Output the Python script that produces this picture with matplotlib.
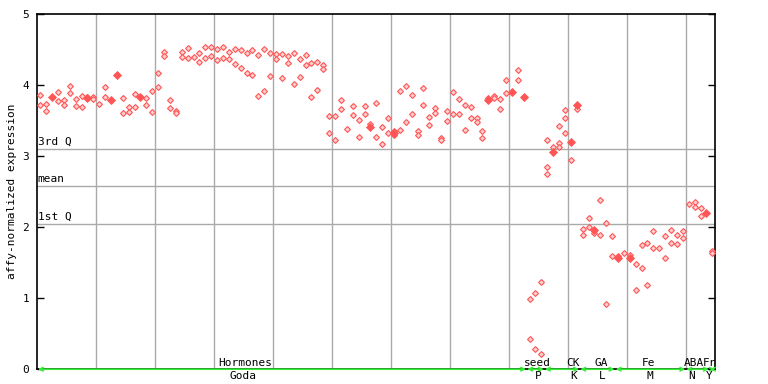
import numpy as np
import matplotlib
matplotlib.use("Agg")
import matplotlib.pyplot as plt

nan = np.nan

# ---- data: one value per column (replicates), NaN where absent ----
goda_r1 = [3.85, 3.73, nan, 3.89, 3.78, 3.98, 3.80, 3.84, 3.83, 3.82,
           3.73, 3.96, nan, nan, 3.81, 3.68, 3.87, nan, 3.81, 3.91,
           4.16, 4.46, 3.78, 3.63, 4.46, 4.51, 4.39, 4.44, 4.53, 4.53,
           4.50, 4.53, 4.46, 4.50, 4.49, 4.44, 4.48, 4.41, 4.50, 4.44,
           4.43, 4.43, 4.40, 4.44, 4.36, 4.42, 4.30, 4.32, 4.27, 3.56,
           3.56, 3.78, 3.37, 3.70, 3.50, 3.70, 3.44, 3.74, 3.40, 3.53,
           3.35, 3.91, 3.98, 3.85, 3.35, 3.95, 3.55, 3.67, 3.25, 3.63,
           3.89, 3.80, 3.71, 3.68, 3.53, 3.35, 3.81, 3.84, 3.80, 4.06,
           nan, 4.20, nan]
goda_r2 = [3.71, 3.63, nan, 3.77, 3.71, 3.88, 3.70, 3.68, nan, 3.80,
           nan, 3.82, nan, nan, 3.60, 3.61, 3.68, nan, 3.71, 3.61,
           3.96, 4.40, 3.67, 3.60, 4.39, 4.37, nan, 4.32, 4.37, 4.40,
           4.34, 4.37, 4.36, 4.29, 4.23, 4.16, 4.13, 3.84, 3.91, 4.12,
           4.36, 4.09, 4.30, 4.01, 4.11, 4.27, 3.82, 3.92, 4.22, 3.32,
           3.22, 3.66, nan, 3.57, 3.26, 3.59, nan, 3.26, 3.16, 3.32,
           3.29, 3.36, 3.47, 3.59, 3.29, 3.71, 3.43, 3.60, 3.22, 3.49,
           3.59, 3.59, 3.36, 3.53, 3.47, 3.25, nan, 3.81, 3.66, 3.88,
           nan, 4.06, nan]
goda_mean = [nan, nan, 3.83, nan, nan, nan, nan, nan, 3.81, nan,
             nan, nan, 3.78, 4.14, nan, nan, nan, 3.82, nan, nan,
             nan, nan, nan, nan, nan, nan, nan, nan, nan, nan,
             nan, nan, nan, nan, nan, nan, nan, nan, nan, nan,
             nan, nan, nan, nan, nan, nan, nan, nan, nan, nan,
             nan, nan, nan, nan, nan, nan, 3.40, nan, nan, nan,
             3.32, nan, nan, nan, nan, nan, nan, nan, nan, nan,
             nan, nan, nan, nan, nan, nan, 3.78, nan, nan, nan,
             3.89, nan, 3.82]

seed_r1 = [0.98, 1.07, 1.22]
seed_r2 = [0.42, 0.28, 0.22]
seed_mean = [nan, nan, nan]

ck_r1 = [3.22, 3.12, 3.42, 3.64, 2.94, 3.66]
ck_r2 = [2.84, nan, 3.18, 3.53, nan, nan]
ck_r3 = [2.74, nan, 3.12, 3.32, nan, nan]
ck_mean = [nan, 3.05, nan, nan, 3.20, 3.72]

ga_r1 = [1.97, 2.12, 1.91, 2.38, 2.05, 1.87]
ga_r2 = [1.88, 2.00, nan, 1.88, 0.91, 1.59]
ga_mean = [nan, nan, 1.95, nan, nan, nan]

fe_r1 = [1.59, 1.64, 1.60, 1.48, 1.74, 1.77, 1.94, 1.70, 1.87, 1.95, 1.88, 1.94]
fe_r2 = [nan, nan, nan, 1.12, 1.42, 1.19, 1.71, nan, 1.57, 1.78, 1.76, 1.85]
fe_mean = [1.56, nan, 1.57, nan, nan, nan, nan, nan, nan, nan, nan, nan]

aba_r1 = [2.32, 2.35, 2.26, nan]
aba_r2 = [nan, 2.28, 2.15, nan]
aba_mean = [nan, nan, nan, 2.20]

fr_r1 = [1.66]
fr_r2 = [1.63]
fr_mean = [nan]

groups = ["Hormones", "seed", "CK", "GA", "Fe", "ABA", "Fr"]
experiments = ["Goda", "P", "K", "L", "M", "N", "Y"]

q3_value = 3.10
mean_value = 2.58
q1_value = 2.04
ylim = (0, 5)
yticks = [0, 1, 2, 3, 4, 5]

# ---- assemble ----
group_r = [[goda_r1, goda_r2], [seed_r1, seed_r2], [ck_r1, ck_r2, ck_r3],
           [ga_r1, ga_r2], [fe_r1, fe_r2], [aba_r1, aba_r2], [fr_r1, fr_r2]]
group_m = [goda_mean, seed_mean, ck_mean, ga_mean, fe_mean, aba_mean, fr_mean]

RED = "#ff5555"
fig = plt.figure(figsize=(7.68, 3.84), dpi=100)
ax = fig.add_axes([37.3 / 768, 1 - 369.2 / 384, (715.3 - 37.3) / 768, (369.2 - 13.5) / 384])

ncols = sum(len(m) for m in group_m)
ax.set_xlim(-0.5, ncols - 0.5)
ax.set_ylim(*ylim)

mono = "DejaVu Sans Mono"

# grid
for gx in np.arange(9.5, ncols - 0.5, 10):
    ax.axvline(gx, color="#aaaaaa", lw=1.0, zorder=1)
for v in (q3_value, mean_value, q1_value):
    ax.axhline(v, color="#aaaaaa", lw=1.0, zorder=1)
ax.text(-0.45, q3_value + 0.03, "3rd Q", family=mono, fontsize=8, ha="left", va="bottom", zorder=3)
ax.text(-0.45, mean_value + 0.03, "mean", family=mono, fontsize=8, ha="left", va="bottom", zorder=3)
ax.text(-0.45, q1_value + 0.03, "1st Q", family=mono, fontsize=8, ha="left", va="bottom", zorder=3)

start = 0
spans = []
for reps, means in zip(group_r, group_m):
    n = len(means)
    xs = np.arange(start, start + n)
    for r in reps:
        ax.plot(xs, r, ls="none", marker="D", ms=3.0, mfc="#ffd0d0", mec=RED, mew=0.8, zorder=4)
    ax.plot(xs, means, ls="none", marker="D", ms=3.8, mfc=RED, mec=RED, mew=0.6, zorder=5)
    spans.append((start, start + n - 1))
    start += n

# green group arrows along the bottom
for (a, b) in spans:
    ax.annotate("", xy=(a - 0.4, 0.0), xytext=(b + 0.4, 0.0),
                xycoords="data", textcoords="data",
                arrowprops=dict(arrowstyle="<->", color="#33ee33", lw=1.2,
                                shrinkA=0, shrinkB=0, mutation_scale=6),
                annotation_clip=False, zorder=6)

label_pos = [34.7, 84.3, 90.3, 95.1, 103.1, 110.8, 113.6]
exp_pos = [34.4, 84.4, 90.5, 95.4, 103.4, 110.4, 113.4]
for g, e, gp, ep in zip(groups, experiments, label_pos, exp_pos):
    ax.text(gp, 0.02, g, family=mono, fontsize=8, ha="center", va="bottom", zorder=7)
    ax.text(ep, -0.02, e, family=mono, fontsize=8, ha="center", va="top", zorder=7)

ax.set_yticks(yticks)
ax.set_yticklabels([str(t) for t in yticks], family=mono, fontsize=8)
ax.tick_params(axis="y", direction="in", length=5, width=1, left=True, right=True, pad=6)
ax.set_xticks([])
for s in ax.spines.values():
    s.set_color("black")
    s.set_linewidth(1.2)

fig.text(12 / 768, 1 - 191 / 384, "affy-normalized expression", family=mono, fontsize=8,
         rotation=90, ha="center", va="center")

fig.savefig("out.png", dpi=100)
